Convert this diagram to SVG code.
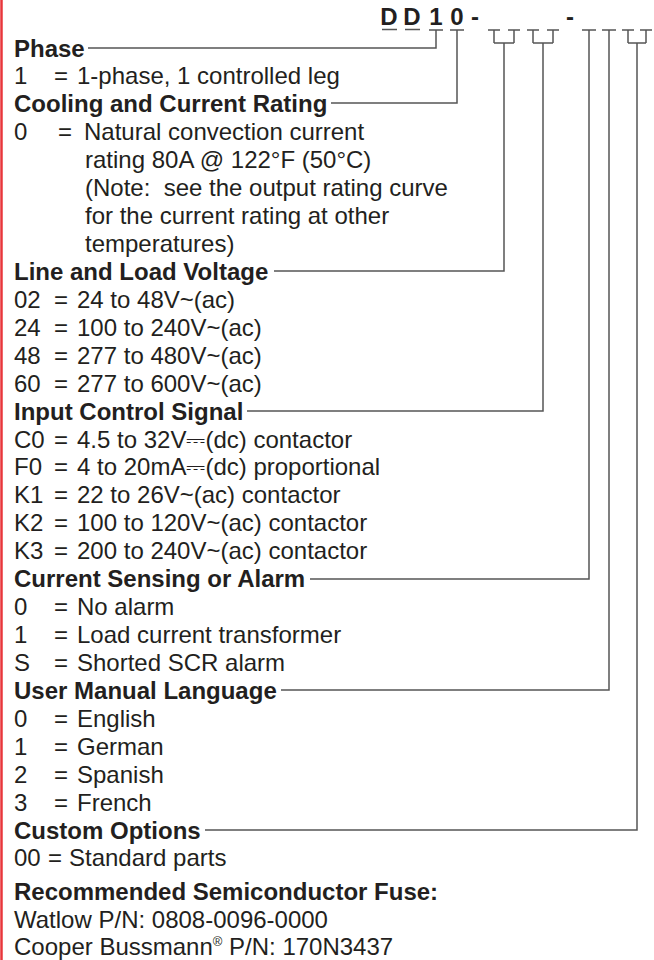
<svg xmlns="http://www.w3.org/2000/svg" width="654" height="960" viewBox="0 0 654 960">
<style>
text{font-family:"Liberation Sans",Arial,Helvetica,sans-serif;font-size:24px;fill:#231f20}
.b{font-weight:bold}
.code{font-weight:bold;text-anchor:middle}
.conn{fill:none;stroke:#555;stroke-width:1.5}
</style>
<rect x="0" y="0" width="654" height="960" fill="#fff"/>
<line x1="1.5" y1="0" x2="1.5" y2="960" stroke="#e8363b" stroke-width="2.5"/>
<g id="model">
<text class="code" x="389" y="25">D</text>
<text class="code" x="412" y="25">D</text>
<text class="code" x="436" y="25">1</text>
<text class="code" x="457" y="25">0</text>
<text class="code" x="475" y="25">-</text>
<text class="code" x="570" y="25">-</text>
<path class="conn" d="M382,29.5H397M405,29.5H420"/>
</g>
<g id="connectors">
<path class="conn" d="M88,48H436V30M429,30H443"/>
<path class="conn" d="M331,103H457V30M450,30H464"/>
<path class="conn" d="M274,271H504V43M494,43H514M494,43V30M514,43V30M488,30H500M508,30H520"/>
<path class="conn" d="M247,411H543V43M533,43H553M533,43V30M553,43V30M527,30H539M547,30H559"/>
<path class="conn" d="M310,579H589V30M582,30H596"/>
<path class="conn" d="M281,690H609V30M602,30H616"/>
<path class="conn" d="M205,830H637V43M628,43H646M628,43V30M646,43V30M622,30H634M640,30H652"/>
</g>
<g id="phase">
<text class="b" x="14" y="56.5">Phase</text>
<text x="14" y="84.4">1</text><text x="54" y="84.4">=</text><text x="77" y="84.4">1-phase, 1 controlled leg</text>
</g>
<g id="cooling">
<text class="b" x="14" y="112.4">Cooling and Current Rating</text>
<text x="14" y="140.3">0</text><text x="58" y="140.3">=</text><text x="84" y="140.3">Natural convection current</text>
<text x="85" y="168.2">rating 80A @ 122°F (50°C)</text>
<text x="85" y="196.2">(Note:&#160; see the output rating curve</text>
<text x="85" y="224.1">for the current rating at other</text>
<text x="85" y="252">temperatures)</text>
</g>
<g id="voltage">
<text class="b" x="14" y="280">Line and Load Voltage</text>
<text x="14" y="307.9">02</text><text x="54" y="307.9">=</text><text x="77" y="307.9">24 to 48V~(ac)</text>
<text x="14" y="335.8">24</text><text x="54" y="335.8">=</text><text x="77" y="335.8">100 to 240V~(ac)</text>
<text x="14" y="363.7">48</text><text x="54" y="363.7">=</text><text x="77" y="363.7">277 to 480V~(ac)</text>
<text x="14" y="391.7">60</text><text x="54" y="391.7">=</text><text x="77" y="391.7">277 to 600V~(ac)</text>
</g>
<g id="input">
<text class="b" x="14" y="419.6">Input Control Signal</text>
<text x="14" y="447.5">C0</text><text x="54" y="447.5">=</text><text x="77" y="447.5">4.5 to 32V⎓(dc) contactor</text>
<text x="14" y="475.4">F0</text><text x="54" y="475.4">=</text><text x="77" y="475.4">4 to 20mA⎓(dc) proportional</text>
<text x="14" y="503.4">K1</text><text x="54" y="503.4">=</text><text x="77" y="503.4">22 to 26V~(ac) contactor</text>
<text x="14" y="531.3">K2</text><text x="54" y="531.3">=</text><text x="77" y="531.3">100 to 120V~(ac) contactor</text>
<text x="14" y="559.2">K3</text><text x="54" y="559.2">=</text><text x="77" y="559.2">200 to 240V~(ac) contactor</text>
</g>
<g id="sensing">
<text class="b" x="14" y="587.2">Current Sensing or Alarm</text>
<text x="14" y="615.1">0</text><text x="54" y="615.1">=</text><text x="77" y="615.1">No alarm</text>
<text x="14" y="643">1</text><text x="54" y="643">=</text><text x="77" y="643">Load current transformer</text>
<text x="14" y="670.9">S</text><text x="54" y="670.9">=</text><text x="77" y="670.9">Shorted SCR alarm</text>
</g>
<g id="language">
<text class="b" x="14" y="698.9">User Manual Language</text>
<text x="14" y="726.8">0</text><text x="54" y="726.8">=</text><text x="77" y="726.8">English</text>
<text x="14" y="754.7">1</text><text x="54" y="754.7">=</text><text x="77" y="754.7">German</text>
<text x="14" y="782.6">2</text><text x="54" y="782.6">=</text><text x="77" y="782.6">Spanish</text>
<text x="14" y="810.6">3</text><text x="54" y="810.6">=</text><text x="77" y="810.6">French</text>
</g>
<g id="custom">
<text class="b" x="14" y="838.5">Custom Options</text>
<text x="14" y="866.4">00</text><text x="48" y="866.4">=</text><text x="69" y="866.4">Standard parts</text>
</g>
<g id="fuse">
<text class="b" x="14" y="900">Recommended Semiconductor Fuse:</text>
<text x="14" y="928">Watlow P/N: 0808-0096-0000</text>
<text x="14" y="955">Cooper Bussmann<tspan font-size="13" dy="-9">®</tspan><tspan dy="9"> P/N: 170N3437</tspan></text>
</g>
</svg>
